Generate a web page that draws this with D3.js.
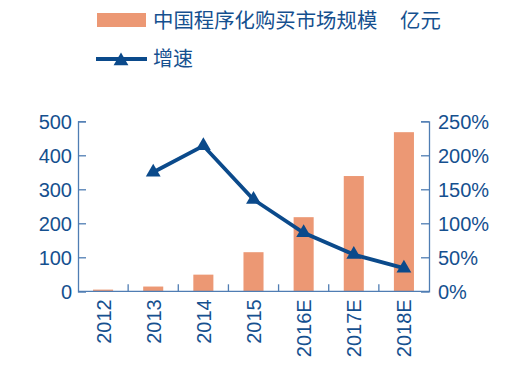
<!DOCTYPE html>
<html><head><meta charset="utf-8">
<script src="https://cdn.jsdelivr.net/npm/d3@7"></script>
<style>body{margin:0;background:#fff}svg{display:block}text{font-family:"Liberation Sans",Arial,sans-serif}</style>
</head><body>
<svg id="c" width="515" height="368"></svg>
<script>
const categories = ["2012","2013","2014","2015","2016E","2017E","2018E"];
const marketSize = [5, 14, 49, 115, 218, 339, 468];
const growth = [null, 175, 214, 135, 86, 54, 34];
const leftTicks = [0,100,200,300,400,500];
const rightTicks = [0,50,100,150,200,250];
const legendLabels = ["中国程序化购买市场规模","亿元","增速"];

const barColor = "#EC9874", lineColor = "#0B4A8B", textColor = "#15508F", axisColor = "#4F7DB3";
const svg = d3.select("#c");
const m = {l:78, r:429, t:121.3, b:291.3};
const x = d3.scaleBand().domain(categories).range([m.l, m.r]).paddingInner(0.6).paddingOuter(0.3);
const xb = d3.scaleBand().domain(categories).range([m.l, m.r]);
const yL = d3.scaleLinear().domain([0,500]).range([m.b, m.t]);
const yR = d3.scaleLinear().domain([0,250]).range([m.b, m.t]);

// bars
svg.append("g").selectAll("rect").data(categories).join("rect")
  .attr("x", d=>x(d)).attr("width", x.bandwidth())
  .attr("y", (d,i)=>yL(marketSize[i])).attr("height",(d,i)=>yL(0)-yL(marketSize[i]))
  .attr("fill", barColor);

// left axis
const gl = svg.append("g").attr("transform",`translate(${m.l},0)`)
  .call(d3.axisLeft(yL).tickValues(leftTicks).tickSize(-8).tickPadding(6).tickFormat(d3.format("d")));
// right axis
const gr = svg.append("g").attr("transform",`translate(${m.r},0)`)
  .call(d3.axisRight(yR).tickValues(rightTicks).tickSize(-8).tickPadding(9).tickFormat(d=>d+"%"));
[gl,gr].forEach(g=>{
  g.select(".domain").attr("stroke",axisColor).attr("stroke-width",1.3);
  g.selectAll(".tick line").attr("stroke",axisColor).attr("stroke-width",1.3);
  g.selectAll(".tick text").attr("fill",textColor).style("font-size","20px").attr("dy","0.36em");
});

// bottom axis
const gb = svg.append("g").attr("transform",`translate(0,${m.b})`);
gb.append("line").attr("x1",m.l).attr("x2",m.r).attr("stroke",axisColor).attr("stroke-width",1.3);
gb.selectAll("line.t").data(categories.slice(1)).join("line").attr("class","t")
  .attr("x1",d=>xb(d)).attr("x2",d=>xb(d)).attr("y1",0).attr("y2",-7)
  .attr("stroke",axisColor).attr("stroke-width",1.3);
gb.selectAll("text").data(categories).join("text")
  .attr("transform",d=>`translate(${xb(d)+xb.bandwidth()/2+7.5},8) rotate(-90)`)
  .attr("text-anchor","end").attr("fill",textColor).style("font-size","20px").text(d=>d);

// line
const pts = categories.map((c,i)=>({c, v:growth[i]})).filter(d=>d.v!=null);
const line = d3.line().x(d=>xb(d.c)+xb.bandwidth()/2).y(d=>yR(d.v));
svg.append("path").datum(pts).attr("d",line).attr("fill","none").attr("stroke",lineColor).attr("stroke-width",3.8);
const tri = d3.symbol().type(d3.symbolTriangle).size(95);
svg.append("g").selectAll("path").data(pts).join("path")
  .attr("transform",d=>`translate(${xb(d.c)+xb.bandwidth()/2},${yR(d.v)})`)
  .attr("d",tri).attr("fill",lineColor);

// legend
const lf = "'Noto Sans CJK SC','Noto Sans CJK JP',sans-serif";
svg.append("rect").attr("x",97).attr("y",13).attr("width",49).attr("height",14).attr("fill",barColor);
svg.append("text").attr("x",153).attr("y",27.5).attr("fill",textColor).style("font-size","20.4px")
  .style("font-family",lf).text(legendLabels[0]);
svg.append("text").attr("x",400).attr("y",27.5).attr("fill",textColor).style("font-size","20.4px")
  .style("font-family",lf).text(legendLabels[1]);
svg.append("line").attr("x1",96).attr("x2",147).attr("y1",59).attr("y2",59).attr("stroke",lineColor).attr("stroke-width",3.8);
svg.append("path").attr("transform","translate(121,61)").attr("d",tri).attr("fill",lineColor);
svg.append("text").attr("x",153).attr("y",66).attr("fill",textColor).style("font-size","20px")
  .style("font-family",lf).text(legendLabels[2]);
</script>
</body></html>
